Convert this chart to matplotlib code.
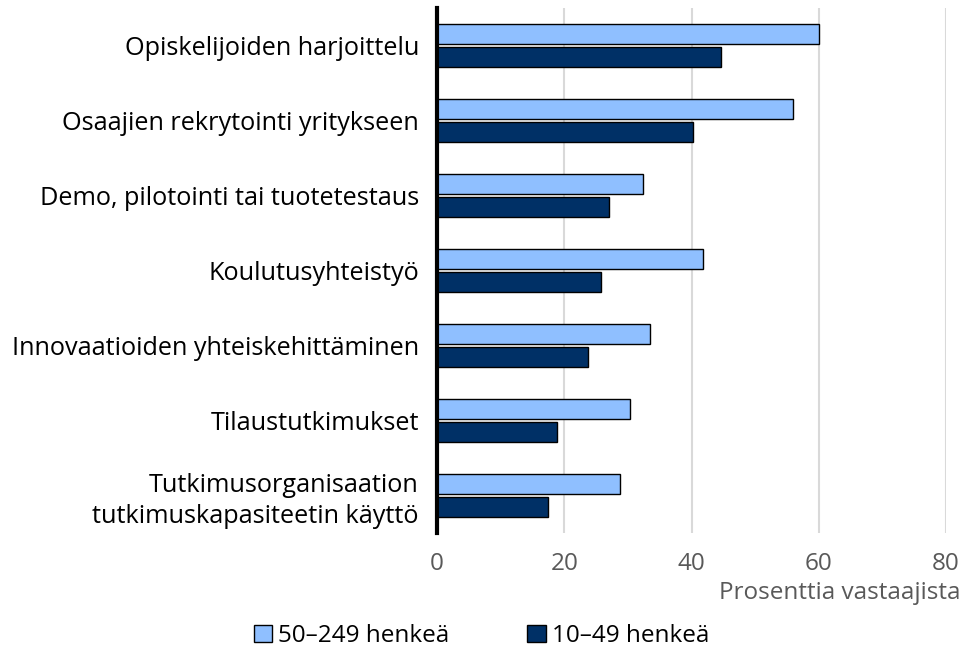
import matplotlib
matplotlib.use("Agg")
import matplotlib.pyplot as plt
import numpy as np
from matplotlib.patches import Patch

categories = [
    "Opiskelijoiden harjoittelu",
    "Osaajien rekrytointi yritykseen",
    "Demo, pilotointi tai tuotetestaus",
    "Koulutusyhteistyö",
    "Innovaatioiden yhteiskehittäminen",
    "Tilaustutkimukset",
    "Tutkimusorganisaation\ntutkimuskapasiteetin käyttö",
]
series_large = [60.0, 55.9, 32.4, 41.8, 33.5, 30.4, 28.7]
series_small = [44.6, 40.2, 27.1, 25.8, 23.8, 18.9, 17.4]
series_names = ["50–249 henkeä", "10–49 henkeä"]
xticks = [0, 20, 40, 60, 80]
xlabel = "Prosenttia vastaajista"

plt.rcParams['font.family'] = ['Open Sans', 'DejaVu Sans']

light = "#8FBFFF"
dark = "#003066"

fig = plt.figure(figsize=(9.63, 6.57), dpi=100)
ax = fig.add_axes([437/963, 1-533/657, (946-437)/963, (533-8)/657])

y = np.arange(len(categories))
h = 0.27
ax.barh(y - 0.155, series_large, height=h, color=light, edgecolor="black", linewidth=1.0, zorder=3)
ax.barh(y + 0.155, series_small, height=h, color=dark, edgecolor="black", linewidth=1.0, zorder=3)

ax.set_xlim(0, 80)
ax.set_ylim(len(categories) - 0.5, -0.5)
ax.set_xticks(xticks)
ax.set_xticklabels([str(t) for t in xticks], fontsize=17.5, color="#595959")
ax.set_yticks(y)
ax.set_yticklabels(categories, fontsize=18.2, color="black", linespacing=1.3)
ax.tick_params(axis="both", length=0)
ax.tick_params(axis="y", pad=13)
ax.tick_params(axis="x", pad=14)
ax.grid(axis="x", color="#D9D9D9", linewidth=1.5, zorder=0)
for s in ["top", "right", "bottom"]:
    ax.spines[s].set_visible(False)
ax.spines["left"].set_linewidth(3)
ax.spines["left"].set_color("black")
ax.spines["left"].set_zorder(5)

fig.text(960/963, 1-593/657, xlabel, fontsize=17.5, color="#595959", ha="right", va="center")

handles = [Patch(facecolor=light, edgecolor="black", linewidth=1.0),
           Patch(facecolor=dark, edgecolor="black", linewidth=1.0)]
fig.legend(handles, series_names, loc="center", bbox_to_anchor=(0.5, 1-636/657),
           ncol=2, frameon=False, fontsize=17.5, handlelength=0.75, handleheight=0.75,
           handletextpad=0.25, columnspacing=3.2)

fig.savefig("out.png", dpi=100)
